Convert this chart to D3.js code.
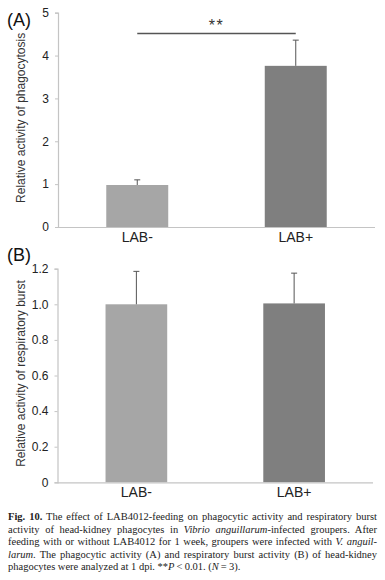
<!DOCTYPE html>
<html>
<head>
<meta charset="utf-8">
<script src="https://cdn.jsdelivr.net/npm/d3@7"></script>
<style>
  html, body { margin: 0; padding: 0; background: #fff; }
  #wrap { position: relative; width: 385px; height: 580px; overflow: hidden; }
  svg { position: absolute; left: 0; top: 0; }
  .axis text { font-family: "Liberation Sans", Arial, sans-serif; fill: #222; }
  #caption { position: absolute; left: 8px; top: 511px; width: 369px;
    font-family: "Liberation Serif", "Times New Roman", serif; font-size: 10.5px;
    line-height: 12.5px; color: #222; }
  #caption .j { text-align: justify; text-align-last: justify; white-space: nowrap; }
  #caption .l { text-align: left; white-space: nowrap; }
</style>
</head>
<body>
<div id="wrap">
<svg id="chart" width="385" height="505"></svg>
<div id="caption">
  <div class="j"><b>Fig. 10.</b> The effect of LAB4012-feeding on phagocytic activity and respiratory burst</div>
  <div class="j">activity of head-kidney phagocytes in <i>Vibrio anguillarum</i>-infected groupers. After</div>
  <div class="j">feeding with or without LAB4012 for 1 week, groupers were infected with <i>V. anguil-</i></div>
  <div class="j"><i>larum</i>. The phagocytic activity (A) and respiratory burst activity (B) of head-kidney</div>
  <div class="l">phagocytes were analyzed at 1 dpi. **<i>P</i>&#8201;&lt;&#8201;0.01. (<i>N</i>&#8201;=&#8201;3).</div>
</div>
</div>
<script>
// ---- data ----
const categories = ["LAB-", "LAB+"];
const phagoValues = [0.98, 3.76];
const phagoErrors = [0.12, 0.60];
const burstValues = [1.00, 1.005];
const burstErrors = [0.185, 0.17];
const phagoTicks = [0, 1, 2, 3, 4, 5];
const burstTicks = [0, 0.2, 0.4, 0.6, 0.8, 1.0, 1.2];
const barColors = ["#a6a6a6", "#7f7f7f"];
const significance = "**";

const svg = d3.select("#chart");

function panel(opts) {
  const g = svg.append("g");
  const x = d3.scaleBand().domain(categories)
    .range([opts.x0, opts.x1]).paddingInner(0.609).paddingOuter(0.3045);
  const y = d3.scaleLinear().domain(opts.domain).range([opts.yb, opts.yt]);

  // y axis
  const ya = g.append("g").attr("class", "axis")
    .attr("transform", `translate(${opts.x0},0)`)
    .call(d3.axisLeft(y).tickValues(opts.ticks).tickSize(3).tickPadding(6)
      .tickFormat(opts.fmt));
  ya.select(".domain").attr("stroke", "#c4c4c4").attr("stroke-width", 1.2);
  ya.selectAll(".tick line").attr("stroke", "#c4c4c4");
  ya.selectAll("text").attr("font-size", 12).attr("fill", "#222");

  // bars
  const data = categories.map((c, i) => ({ c, v: opts.values[i], e: opts.errors[i], i }));
  g.selectAll("rect.bar").data(data).enter().append("rect")
    .attr("class", "bar")
    .attr("x", d => x(d.c)).attr("width", x.bandwidth())
    .attr("y", d => y(d.v)).attr("height", d => y(0) - y(d.v))
    .attr("fill", d => barColors[d.i]);

  // error bars (upper)
  const eb = g.selectAll("g.err").data(data).enter().append("g").attr("class", "err");
  eb.append("line")
    .attr("x1", d => x(d.c) + x.bandwidth() / 2).attr("x2", d => x(d.c) + x.bandwidth() / 2)
    .attr("y1", d => y(d.v)).attr("y2", d => y(d.v + d.e))
    .attr("stroke", "#555").attr("stroke-width", 1);
  eb.append("line")
    .attr("x1", d => x(d.c) + x.bandwidth() / 2 - 3).attr("x2", d => x(d.c) + x.bandwidth() / 2 + 3)
    .attr("y1", d => y(d.v + d.e)).attr("y2", d => y(d.v + d.e))
    .attr("stroke", "#555").attr("stroke-width", 1);

  // x axis
  const xa = g.append("g").attr("class", "axis")
    .attr("transform", `translate(0,${opts.yb})`)
    .call(d3.axisBottom(x).tickSize(0).tickPadding(5));
  xa.select(".domain").attr("stroke", "#c4c4c4").attr("stroke-width", 1.2)
    .attr("d", `M${opts.x0},0.5H${opts.x1}`);
  xa.selectAll("text").attr("font-size", 14).attr("fill", "#111");

  // y label
  g.append("text")
    .attr("transform", `translate(${opts.labelX},${(opts.yb + opts.yt) / 2 - 2}) rotate(-90)`)
    .attr("text-anchor", "middle")
    .attr("dominant-baseline", "middle")
    .attr("font-family", "Liberation Sans, Arial, sans-serif")
    .attr("font-size", 12).attr("fill", "#333")
    .text(opts.ylabel);

  // panel letter
  g.append("text")
    .attr("x", 7).attr("y", opts.letterY)
    .attr("font-family", "Liberation Sans, Arial, sans-serif")
    .attr("font-size", 18).attr("fill", "#111")
    .text(opts.letter);

  return { x, y, g };
}

const A = panel({
  x0: 58, x1: 375, yb: 227, yt: 12.7, domain: [0, 5], ticks: phagoTicks,
  fmt: d3.format("d"), values: phagoValues, errors: phagoErrors,
  ylabel: "Relative activity of phagocytosis", labelX: 22, letter: "(A)", letterY: 26
});

// significance bracket
const sx1 = A.x(categories[0]) + A.x.bandwidth() / 2;
const sx2 = A.x(categories[1]) + A.x.bandwidth() / 2;
A.g.append("line")
  .attr("x1", sx1).attr("x2", sx2).attr("y1", 33.5).attr("y2", 33.5)
  .attr("stroke", "#555").attr("stroke-width", 1.5);
A.g.append("text")
  .attr("x", (sx1 + sx2) / 2).attr("y", 31)
  .attr("text-anchor", "middle")
  .attr("font-family", "Liberation Sans, Arial, sans-serif")
  .attr("font-size", 16).attr("letter-spacing", 1.5).attr("fill", "#333")
  .text(significance);

panel({
  x0: 57.5, x1: 373, yb: 482.3, yt: 268.7, domain: [0, 1.2], ticks: burstTicks,
  fmt: d => d === 0 ? "0" : d3.format(".1f")(d), values: burstValues, errors: burstErrors,
  ylabel: "Relative activity of respiratory burst", labelX: 22, letter: "(B)", letterY: 261
});
</script>
</body>
</html>
